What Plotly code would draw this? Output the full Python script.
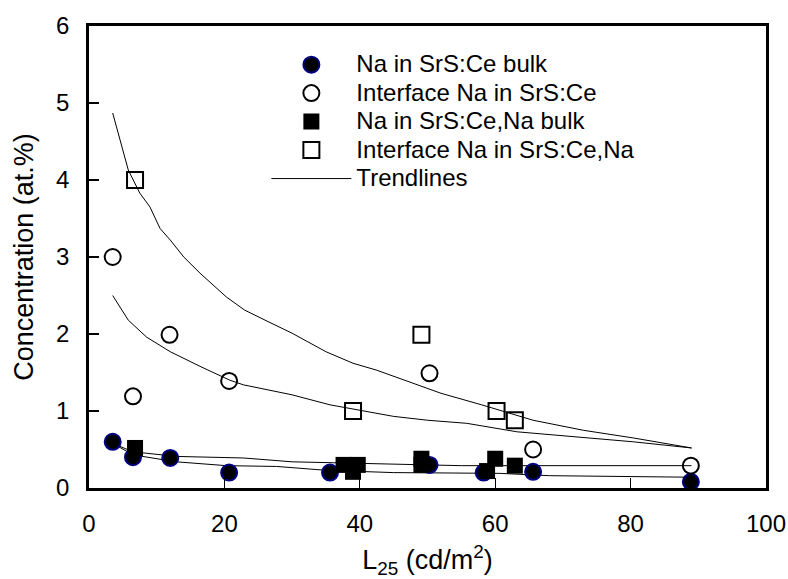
import plotly.graph_objects as go

# ---- data ----
bulk_ce_x = [3.5, 6.5, 12, 20.7, 35.6, 50.3, 58.3, 65.6, 88.9]
bulk_ce_y = [0.6, 0.4, 0.39, 0.2, 0.2, 0.3, 0.2, 0.21, 0.08]

iface_ce_x = [3.5, 6.5, 11.9, 20.7, 50.3, 65.6, 88.9]
iface_ce_y = [3.0, 1.19, 1.99, 1.39, 1.49, 0.5, 0.29]

bulk_cena_x = [6.8, 37.6, 39.0, 39.7, 49.1, 49.1, 58.8, 60.0, 62.9]
bulk_cena_y = [0.52, 0.3, 0.21, 0.3, 0.38, 0.3, 0.22, 0.38, 0.29]

iface_cena_x = [6.8, 39.0, 49.1, 60.2, 62.9]
iface_cena_y = [4.0, 1.0, 1.99, 1.0, 0.88]

# trendlines as drawn in the reference
trend_iface_cena_x = [3.5, 5.8, 7.5, 9, 10.5, 12, 14, 16.4, 20.3, 23, 26, 30, 35, 39, 42.5, 47.4, 52, 58, 65.6, 73, 80.4, 89]
trend_iface_cena_y = [4.87, 4.13, 3.83, 3.65, 3.37, 3.22, 3.0, 2.79, 2.48, 2.31, 2.18, 2.01, 1.77, 1.62, 1.53, 1.38, 1.23, 1.08, 0.88, 0.75, 0.65, 0.52]

trend_iface_ce_x = [3.5, 5.8, 8.5, 12, 16.4, 20.8, 22.8, 30, 35.6, 40, 45, 50, 55.8, 63.2, 70.6, 80.4, 89]
trend_iface_ce_y = [2.5, 2.18, 1.96, 1.77, 1.58, 1.40, 1.34, 1.21, 1.08, 1.01, 0.93, 0.88, 0.84, 0.73, 0.67, 0.60, 0.52]

trend_bulk_a_x = [3.5, 6.5, 12.9, 22.8, 30, 45, 55, 89]
trend_bulk_a_y = [0.58, 0.47, 0.41, 0.39, 0.34, 0.31, 0.29, 0.29]

trend_bulk_b_x = [3.5, 6.5, 12.9, 20.3, 27.7, 35, 45, 53, 60.7, 68, 89]
trend_bulk_b_y = [0.58, 0.43, 0.34, 0.29, 0.28, 0.23, 0.2, 0.19, 0.19, 0.16, 0.14]

x_ticks = [0, 20, 40, 60, 80, 100]
y_ticks = [0, 1, 2, 3, 4, 5, 6]

FONT = "Liberation Sans, Arial, sans-serif"


def legend_name(text):
    return '<span style="font-size:24px">' + text + '</span>'


fig = go.Figure()

trends = [
    (trend_iface_cena_x, trend_iface_cena_y),
    (trend_iface_ce_x, trend_iface_ce_y),
    (trend_bulk_a_x, trend_bulk_a_y),
    (trend_bulk_b_x, trend_bulk_b_y),
]
for i, (tx, ty) in enumerate(trends):
    fig.add_trace(go.Scatter(
        x=tx, y=ty, mode="lines", line=dict(color="black", width=1),
        name=legend_name("Trendlines"), legendgroup="trend", showlegend=(i == 0),
        legendrank=1005, hoverinfo="skip"))

fig.add_trace(go.Scatter(
    x=bulk_ce_x, y=bulk_ce_y, mode="markers", name=legend_name("Na in SrS:Ce bulk"),
    marker=dict(symbol="circle", size=16, color="black",
                line=dict(color="#000080", width=2)),
    legendrank=1001))
fig.add_trace(go.Scatter(
    x=iface_ce_x, y=iface_ce_y, mode="markers", name=legend_name("Interface Na in SrS:Ce"),
    marker=dict(symbol="circle-open", size=16, color="black",
                line=dict(color="black", width=2)),
    legendrank=1002))
fig.add_trace(go.Scatter(
    x=bulk_cena_x, y=bulk_cena_y, mode="markers", name=legend_name("Na in SrS:Ce,Na bulk"),
    marker=dict(symbol="square", size=16, color="black",
                line=dict(color="black", width=0)),
    legendrank=1003))
fig.add_trace(go.Scatter(
    x=iface_cena_x, y=iface_cena_y, mode="markers", name=legend_name("Interface Na in SrS:Ce,Na"),
    marker=dict(symbol="square-open", size=16, color="black",
                line=dict(color="black", width=2)),
    legendrank=1004))

fig.update_layout(
    width=788, height=579,
    margin=dict(l=89, r=22, t=26, b=91),
    paper_bgcolor="white", plot_bgcolor="white",
    font=dict(family=FONT, color="black", size=24),
    legend=dict(
        x=0.262, y=0.958, xanchor="left", yanchor="top",
        bgcolor="rgba(0,0,0,0)", borderwidth=0,
        font=dict(family=FONT, size=19.6, color="black"),
        itemwidth=80, tracegroupgap=0, traceorder="normal",
    ),
    xaxis=dict(
        range=[0, 100], tickvals=x_ticks, ticktext=[str(v) for v in x_ticks],
        ticks="inside", ticklen=10, tickwidth=1, tickcolor="black",
        showline=True, linewidth=2.5, linecolor="black", mirror=True,
        showgrid=False, zeroline=False, automargin=False,
        tickfont=dict(size=24), ticklabelstandoff=12,
        title=dict(text="L<sub>25</sub> (cd/m<sup>2</sup>)", font=dict(size=27), standoff=19),
    ),
    yaxis=dict(
        range=[0, 6], tickvals=y_ticks, ticktext=[str(v) for v in y_ticks],
        ticks="inside", ticklen=10, tickwidth=1.5, tickcolor="black",
        showline=True, linewidth=2.5, linecolor="black", mirror=True,
        showgrid=False, zeroline=False, automargin=False,
        tickfont=dict(size=24), ticklabelstandoff=12,
        title=dict(text="Concentration (at.%)", font=dict(size=27), standoff=15),
    ),
    showlegend=True,
)

fig.write_html(
    "out.html",
    config={"displayModeBar": False},
    post_script="document.body.style.margin='0';document.body.style.padding='0';",
)
